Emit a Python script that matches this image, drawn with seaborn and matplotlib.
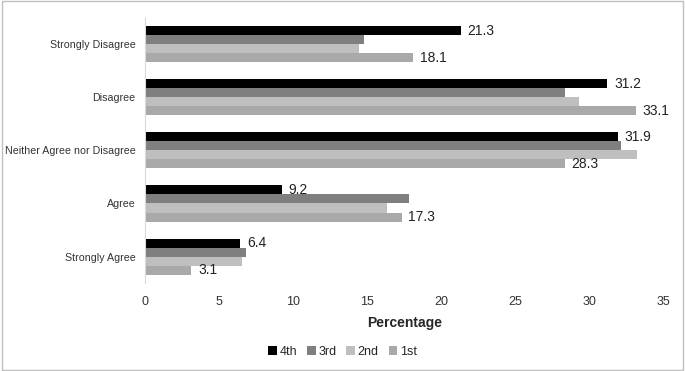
import matplotlib
matplotlib.use('Agg')
import matplotlib.pyplot as plt
import pandas as pd
import seaborn as sns

# responses, top to bottom
categories = ['Strongly Disagree', 'Disagree', 'Neither Agree nor Disagree', 'Agree', 'Strongly Agree']
years = ['4th', '3rd', '2nd', '1st']

fourth = [21.3, 31.2, 31.9, 9.2, 6.4]
third = [14.8, 28.3, 32.1, 17.8, 6.8]
second = [14.4, 29.3, 33.2, 16.3, 6.5]
first = [18.1, 33.1, 28.3, 17.3, 3.1]

colors = {'4th': '#000000', '3rd': '#7f7f7f', '2nd': '#bfbfbf', '1st': '#a9a9a9'}

df = pd.DataFrame({'response': categories, '4th': fourth, '3rd': third, '2nd': second, '1st': first})
df = df.melt('response', var_name='year', value_name='pct')

sns.set_style('white')
plt.rcParams['font.family'] = ['Liberation Sans', 'DejaVu Sans']

fig = plt.figure(figsize=(6.85, 3.71), dpi=100)
ax = fig.add_axes([0.212, 0.237, 0.757, 0.715])

sns.barplot(data=df, x='pct', y='response', hue='year', hue_order=years,
            order=categories, palette=colors, orient='h', width=0.68,
            linewidth=0, ax=ax)

# only the 4th and 1st year bars carry labels
for cont, yr in zip(ax.containers, years):
    if yr in ('4th', '1st'):
        ax.bar_label(cont, fmt='%.1f', padding=5, fontsize=10, color='#222222')

ax.set_xlim(0, 35)
ax.set_xticks(range(0, 36, 5))
ax.set_xlabel('Percentage', fontsize=10, fontweight='bold', labelpad=6)
ax.set_ylabel('')
ax.tick_params(axis='both', length=0, colors='#333333')
ax.tick_params(axis='y', pad=7, labelsize=7.7)
ax.tick_params(axis='x', pad=9, labelsize=9)
for s in ['top', 'right', 'bottom']:
    ax.spines[s].set_visible(False)
ax.spines['left'].set_color('#d9d9d9')
ax.spines['left'].set_linewidth(0.8)

ax.legend(loc='center', bbox_to_anchor=(0.5, 0.052), bbox_transform=fig.transFigure,
          ncol=4, frameon=False, fontsize=9, handlelength=0.7, handleheight=0.7,
          handletextpad=0.2, columnspacing=0.8, title=None)

# light grey border around the whole picture
fig.patches.append(plt.Rectangle((0.003, 0.004), 0.994, 0.992, transform=fig.transFigure,
                                 fill=False, edgecolor='#bfbfbf', linewidth=1))

fig.savefig('out.png', dpi=100)
